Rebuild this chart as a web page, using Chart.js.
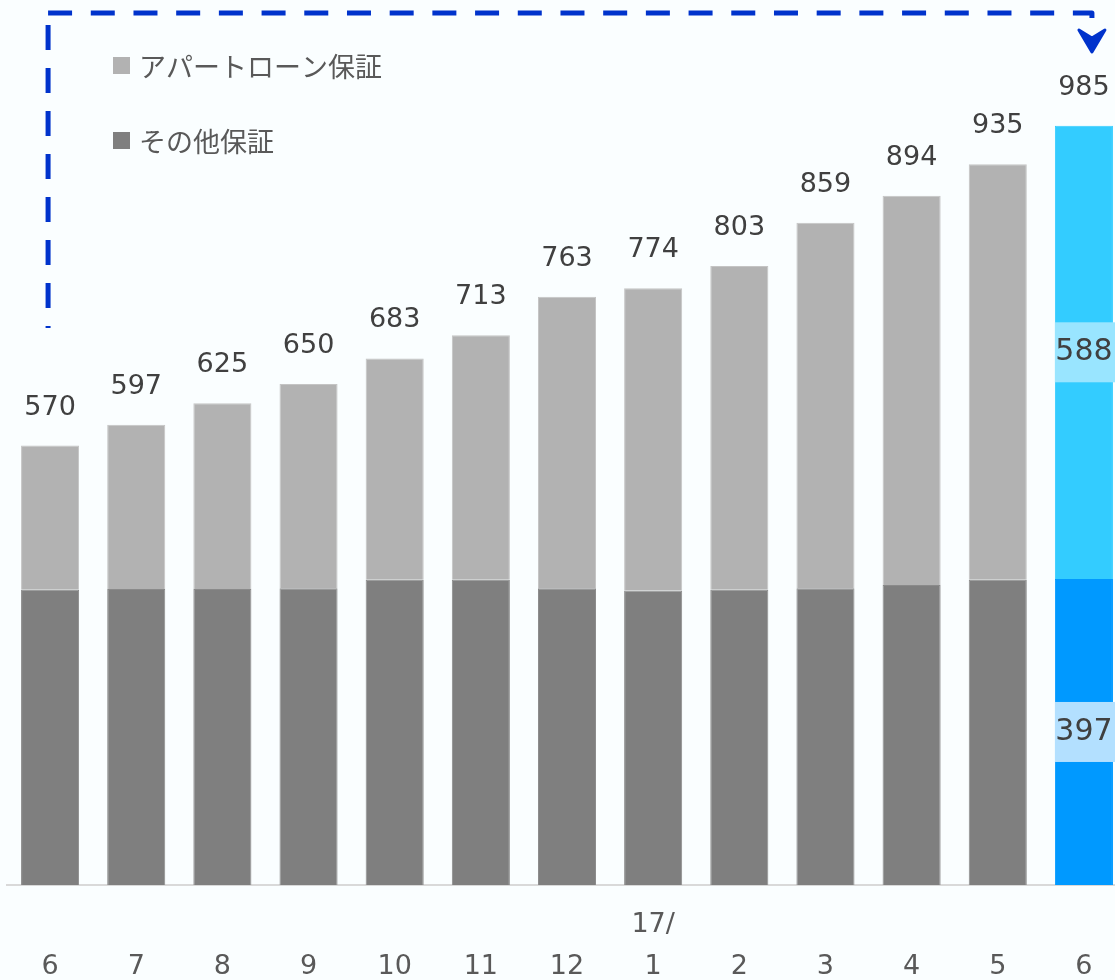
<!DOCTYPE html>
<html><head><meta charset="utf-8">
<script src="https://cdn.jsdelivr.net/npm/chart.js@4.4.1/dist/chart.umd.min.js"></script>
<style>
html,body{margin:0;padding:0;background:#fafeff;overflow:hidden;width:1115px;height:980px}
canvas{display:block}
</style></head><body>
<canvas id="c" width="1130" height="980"></canvas>
<script>
// ---- data ----
const months = ["6","7","8","9","10","11","12","1","2","3","4","5","6"];
const yearMarks = ["","","","","","","","17/","","","","",""];
const otherGuarantee = [383,384,384,385,396,396,385,382,383,385,389,396,397];
const apartLoan      = [187,213,241,265,287,317,378,392,420,474,505,539,588];
const seriesNames = ["アパートローン保証","その他保証"];

// ---- styles ----
const GRAY_LIGHT = '#b2b2b2', GRAY_DARK = '#7f7f7f';
const BLUE_LIGHT = '#33ccff', BLUE_DARK = '#0099ff';
const n = months.length;
const lastIdx = n - 1;
const colorsFor = (normal, highlight) => months.map((m,i)=> i===lastIdx ? highlight : normal);

const overlay = {
  id: 'overlay',
  beforeDraw(chart){
    const c = chart.ctx; c.save(); c.fillStyle = '#fafeff'; c.fillRect(0,0,chart.width,chart.height); c.restore();
  },
  afterDatasetsDraw(chart){
    const c = chart.ctx;
    const metaBottom = chart.getDatasetMeta(0);
    const metaTop = chart.getDatasetMeta(1);
    c.save();
    c.textAlign = 'center'; c.textBaseline = 'middle';
    c.font = '27px "DejaVu Sans"'; c.fillStyle = '#404040';
    metaTop.data.forEach((bar,i)=>{
      const p = bar.getProps(['x','y'], true);
      const total = otherGuarantee[i] + apartLoan[i];
      c.fillText(String(total), p.x, p.y - 38);
    });
    const box = (el, value, col) => {
      const p = el.getProps(['x','y','base','width'], true);
      const cy = (p.y + p.base) / 2;
      c.fillStyle = col;
      c.fillRect(p.x - p.width/2, cy - 30, p.width + 12, 60);
      c.fillStyle = '#404040';
      c.font = '30px "DejaVu Sans"';
      c.fillText(String(value), p.x, cy);
    };
    box(metaTop.data[lastIdx], apartLoan[lastIdx], '#99e5ff');
    box(metaBottom.data[lastIdx], otherGuarantee[lastIdx], '#b3e0ff');
    c.restore();
  },
  afterDraw(chart){
    const c = chart.ctx;
    const xs = chart.scales.x;
    // legend
    const ds = chart.data.datasets;
    const items = [ds[1], ds[0]];
    c.save();
    c.textBaseline = 'middle'; c.textAlign = 'left';
    c.font = '27px "Noto Sans CJK JP"';
    items.forEach((d, k)=>{
      const cy = 66 + k*75;
      c.fillStyle = d.legendColor;
      c.fillRect(113, cy - 9, 17, 17);
      c.fillStyle = '#595959';
      c.fillText(d.label, 139, cy + 1);
    });
    // dashed arrow
    const x0 = xs.getPixelForValue(0) - 2;
    const x1 = xs.getPixelForValue(lastIdx) + 8;
    const yTop = 13, yLow = 328;
    c.strokeStyle = '#0033cc'; c.lineWidth = 5; c.lineJoin = 'round'; c.lineCap = 'butt';
    c.setLineDash([24,18.7]);
    c.beginPath(); c.moveTo(x0, yTop); c.lineTo(x1, yTop); c.lineTo(x1, yTop + 5); c.stroke();
    c.setLineDash([25,18]);
    c.lineDashOffset = -12;
    c.beginPath(); c.moveTo(x0, yTop); c.lineTo(x0, yLow); c.stroke();
    c.setLineDash([]);
    c.fillStyle = '#0033cc'; c.lineWidth = 3;
    c.beginPath();
    c.moveTo(x1 - 13, 30); c.lineTo(x1, 38); c.lineTo(x1 + 13, 30); c.lineTo(x1, 52); c.closePath();
    c.fill(); c.stroke();
    c.restore();
  }
};

new Chart(document.getElementById('c'), {
  type: 'bar',
  data: {
    labels: months.map((m,i)=>[yearMarks[i], m]),
    datasets: [
      { label: seriesNames[1], data: otherGuarantee, legendColor: GRAY_DARK,
        backgroundColor: colorsFor(GRAY_DARK, BLUE_DARK), borderColor: colorsFor('#8a8a8a', BLUE_DARK), borderWidth: 1 },
      { label: seriesNames[0], data: apartLoan, legendColor: GRAY_LIGHT,
        backgroundColor: colorsFor(GRAY_LIGHT, BLUE_LIGHT), borderColor: colorsFor('#c4c4c4', BLUE_LIGHT), borderWidth: 1 }
    ]
  },
  options: {
    responsive: false,
    animation: false,
    devicePixelRatio: 1,
    layout: { padding: { left: 7, right: 3, top: 37, bottom: 0 } },
    datasets: { bar: { categoryPercentage: 0.674, barPercentage: 1 } },
    plugins: { legend: { display: false }, tooltip: { enabled: false } },
    scales: {
      x: {
        stacked: true, offset: true,
        grid: { display: false, drawTicks: false },
        border: { display: true, color: '#d9d9d9', width: 2 },
        ticks: { color: '#595959', padding: 19, maxRotation: 0, autoSkip: false,
                 font: { family: 'DejaVu Sans', size: 27, lineHeight: 1.55 } },
        afterFit(s){ s.height = 95; }
      },
      y: { stacked: true, display: false, min: 0, max: 1100 }
    }
  },
  plugins: [overlay]
});
</script>
</body></html>
